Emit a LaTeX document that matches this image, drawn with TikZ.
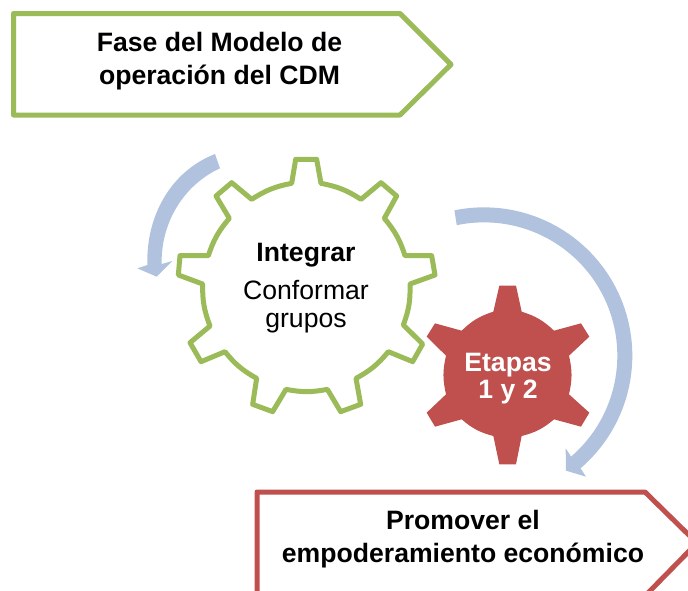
\documentclass[tikz,border=0pt]{standalone}
\usepackage{fontspec}
\setmainfont{Liberation Sans}
\definecolor{grn}{HTML}{9BBB59}
\definecolor{rd}{HTML}{C0504D}
\definecolor{blu}{HTML}{B0C2DD}
\tikzset{
  outline/.style={line width=5pt,line join=round,fill=white},
  label/.style={align=center,font=\fontsize{26.6}{28}\selectfont,text=black,inner sep=0pt},
  labelbold/.style={label,font=\fontsize{26.6}{33}\selectfont\bfseries}
}
\begin{document}
\begin{tikzpicture}[x=1pt,y=-1pt]
\useasboundingbox (0,0) rectangle (688,590);
\clip (0,0) rectangle (688,590);
% top pentagon
\draw[outline,draw=grn] (13.5,13.5) -- (400,13.5) -- (451,64.5) -- (400,115) -- (13.5,115) -- cycle;
% bottom pentagon
\draw[outline,draw=rd] (257,492) -- (645,492) -- (697,543) -- (645,596) -- (257,596) -- cycle;
\begin{scope}[shift={(130,140)},x=1/3*1pt,y=-1/3*1pt]
% small arrow
\fill[blu] (255,42) .. controls (120,95) and (48,230) .. (52,375) -- (22,385) -- (80,410) -- (127,363) -- (95,372) .. controls (92,250) and (160,135) .. (270,85) -- cycle;
% green gear
\draw[outline,draw=grn]
 (485,130) -- (497,58) -- (560,58) -- (573,130) to[bend left=11]
 (693,178) -- (753,128) -- (800,168) -- (763,235) to[bend left=11]
 (825,347) -- (905,347) -- (915,405) -- (840,432) to[bend left=11]
 (820,555) -- (878,612) -- (848,665) -- (775,635) to[bend left=11]
 (678,715) -- (692,793) -- (632,815) -- (592,748) to[bend left=11]
 (468,748) -- (428,815) -- (368,793) -- (380,715) to[bend left=11]
 (285,635) -- (213,665) -- (180,608) -- (240,558) to[bend left=11]
 (218,432) -- (145,405) -- (150,347) -- (235,347) to[bend left=11]
 (298,235) -- (258,168) -- (305,128) -- (365,178) to[bend left=11]
 cycle;
\end{scope}
\begin{scope}[shift={(410,200)},x=1/3*1pt,y=-1/3*1pt]
% big arrow
\fill[blu] plot[domain=-101.5:49.4,samples=70] ({222+445*cos(\x)},{467+445*sin(\x)})
 -- (528,830) -- (468,812) -- (467,745)
 -- plot[domain=49.2:-101.8,samples=70] ({222+400*cos(\x)},{467+400*sin(\x)}) -- cycle;
% red gear
\fill[rd]
 (250,335) -- (268,257) -- (318,257) -- (335,335) to[bend left=13]
 (432,392) -- (513,370) -- (538,410) -- (477,467) to[bend left=13]
 (477,583) -- (538,638) -- (513,680) -- (432,658) to[bend left=13]
 (335,708) -- (318,793) -- (268,793) -- (250,708) to[bend left=13]
 (155,658) -- (75,680) -- (50,638) -- (108,583) to[bend left=13]
 (108,467) -- (50,410) -- (75,370) -- (155,392) to[bend left=13]
 cycle;
\end{scope}
\node[labelbold] (fase) at (219.5,61.5) {Fase del Modelo de\\operación del CDM};
\node[labelbold] (prom) at (463,539.5) {Promover el\\empoderamiento económico};
\node[labelbold] (integ) at (306,255) {Integrar};
\node[label] (conf) at (306,307) {Conformar\\grupos};
\node[labelbold,text=white,font=\fontsize{26.6}{27}\selectfont\bfseries] (etap) at (508,378.5) {Etapas\\1 y 2};
\end{tikzpicture}
\end{document}
